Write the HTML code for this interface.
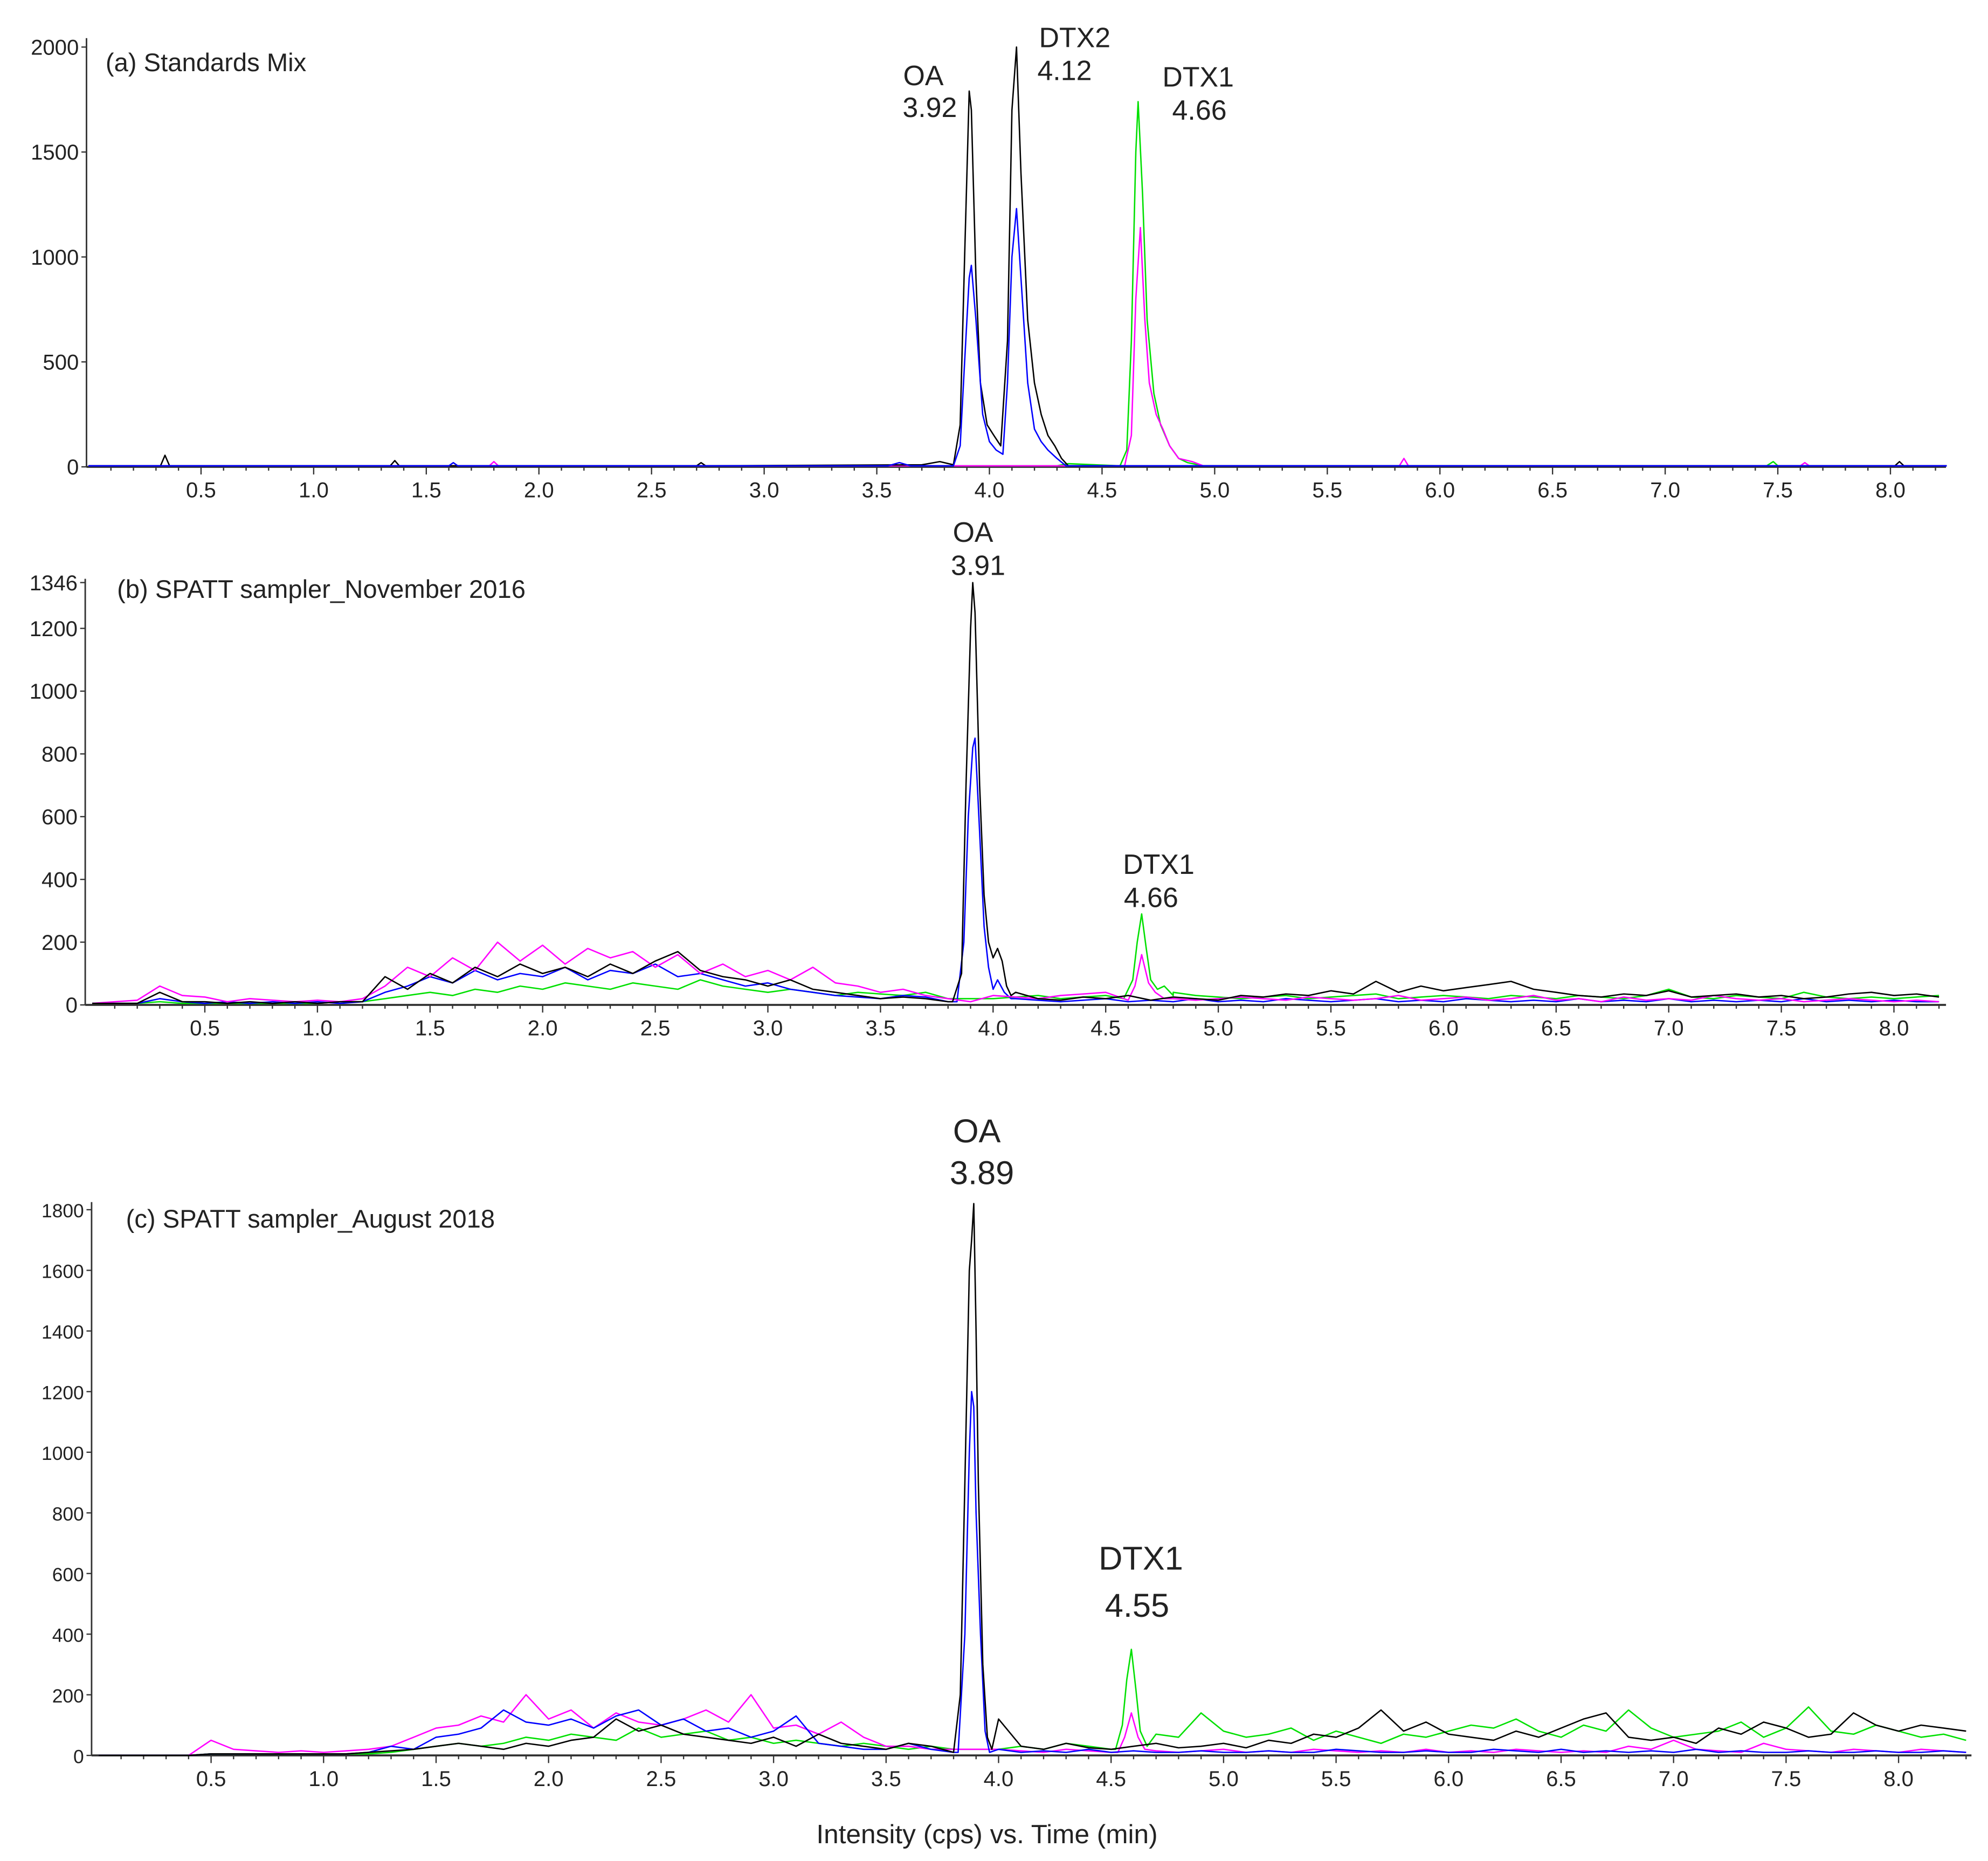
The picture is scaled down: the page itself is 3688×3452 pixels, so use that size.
<!DOCTYPE html>
<html><head><meta charset="utf-8"><style>
html,body{margin:0;padding:0;background:#fff}
svg{display:block}
text{font-family:"Liberation Sans",Arial,sans-serif;fill:#222}
</style></head><body>
<svg id="chart" width="3688" height="3452" viewBox="0 0 1563 1463" xmlns="http://www.w3.org/2000/svg">
<g id="root"></g>
</svg>
<script>
// ---------- DATA ----------
// Panel (a) Standards Mix: sparse samples (time min, intensity cps)
const aBlackT=[0,0.32,0.34,0.36,1.34,1.36,1.38,2.7,2.72,2.74,3.7,3.78,3.84,3.87,3.89,3.91,3.92,3.94,3.96,3.99,4.02,4.05,4.08,4.1,4.12,4.14,4.17,4.2,4.23,4.26,4.29,4.32,4.35,8.02,8.04,8.06,8.25];
const aBlackV=[5,5,55,5,5,30,5,5,20,5,10,25,10,200,1000,1790,1700,900,400,200,150,100,600,1700,2000,1400,700,400,250,150,100,40,5,5,25,5,5];
const aBlueT=[0,1.6,1.62,1.64,3.55,3.6,3.65,3.84,3.87,3.89,3.91,3.92,3.94,3.97,4.0,4.03,4.06,4.08,4.1,4.12,4.14,4.17,4.2,4.23,4.26,4.3,4.34,8.25];
const aBlueV=[5,5,20,5,5,20,5,5,100,500,900,960,700,250,120,80,60,400,1000,1230,900,400,180,120,80,40,5,5];
const aGreenT=[0,4.3,4.35,4.58,4.61,4.63,4.65,4.66,4.68,4.7,4.73,4.76,4.8,4.84,4.88,4.95,7.45,7.48,7.5,8.25];
const aGreenV=[5,5,15,5,80,600,1500,1740,1300,700,350,200,100,40,20,5,5,25,5,5];
const aMagentaT=[0,1.78,1.8,1.82,4.6,4.63,4.65,4.67,4.69,4.71,4.74,4.77,4.8,4.84,4.9,4.95,5.82,5.84,5.86,7.6,7.62,7.64,8.25];
const aMagentaV=[5,5,25,5,5,150,800,1140,700,400,250,180,100,40,25,5,5,40,5,5,20,5,5];

// Panel (b) SPATT Nov 2016: baseline sampled every 0.1 min from 0.0, plus peak segments
const bBlackBase=[5,5,5,40,10,10,5,10,5,10,5,10,10,90,50,100,70,120,90,130,100,120,90,130,100,140,170,110,90,80,60,80,50,40,30,20,25,20,10,10,150,40,20,15,25,20,30,15,25,20,15,30,25,35,30,45,35,75,40,60,45,55,65,75,50,40,30,25,35,30,45,25,30,35,25,30,20,25,35,40,30,35,25];
const bBlueBase=[5,5,5,20,10,5,10,5,10,5,10,5,10,40,60,90,70,110,80,100,90,120,80,110,100,130,90,100,80,60,70,50,40,30,25,20,30,25,10,10,60,20,15,10,15,20,10,15,10,20,10,15,10,20,15,10,15,20,10,15,10,20,15,10,15,10,20,10,15,10,20,10,15,10,15,10,20,10,15,10,15,10,10];
const bMagentaBase=[5,10,15,60,30,25,10,20,15,10,15,10,20,60,120,90,150,110,200,140,190,130,180,150,170,120,160,100,130,90,110,80,120,70,60,40,50,30,20,10,30,25,20,30,35,40,30,25,20,15,20,25,20,15,25,20,15,20,30,15,20,25,15,20,30,15,20,10,25,15,20,15,30,20,15,20,10,15,20,15,10,15,10];
const bGreenBase=[5,5,5,10,5,5,5,5,5,5,5,10,10,20,30,40,30,50,40,60,50,70,60,50,70,60,50,80,60,50,40,50,40,30,40,35,30,40,20,20,20,25,30,20,25,30,40,30,40,30,25,20,25,30,20,25,30,35,20,25,30,25,20,30,25,20,30,25,20,30,50,25,20,30,25,20,40,25,20,25,20,25,30];
const bBlackPkT=[3.82,3.86,3.88,3.9,3.91,3.92,3.94,3.96,3.98,4.0,4.02,4.04,4.06,4.08];
const bBlackPkV=[10,100,700,1200,1346,1250,700,350,200,150,180,140,60,30];
const bBluePkT=[3.84,3.87,3.89,3.91,3.92,3.94,3.96,3.98,4.0,4.02,4.05,4.08];
const bBluePkV=[10,200,600,820,850,550,250,120,50,80,40,20];
const bGreenPkT=[4.58,4.62,4.64,4.66,4.68,4.7,4.73,4.76,4.8];
const bGreenPkV=[20,80,200,290,180,80,50,60,30];
const bMagentaPkT=[4.6,4.63,4.66,4.69,4.72,4.76];
const bMagentaPkV=[15,60,160,70,40,20];

// Panel (c) SPATT Aug 2018
const cBlackBase=[0,0,0,0,0,5,5,5,5,5,5,5,10,15,20,30,40,30,20,40,30,50,60,120,80,100,70,60,50,40,60,30,70,40,30,20,40,30,50,20,120,30,20,40,25,20,30,40,25,30,40,25,50,40,70,60,90,150,80,110,70,60,50,80,60,90,120,140,60,50,60,40,90,70,110,90,60,70,140,100,80,100,90,80];
const cBlueBase=[0,0,0,0,0,5,5,5,5,5,5,5,10,30,20,60,70,90,150,110,100,120,90,130,150,100,120,80,90,60,80,130,40,30,20,20,40,20,10,10,20,10,15,10,20,10,15,10,10,15,10,10,15,10,10,20,15,10,10,15,10,10,20,15,10,20,10,15,10,15,10,20,10,15,10,10,15,10,10,15,10,10,15,10];
const cMagentaBase=[0,0,0,0,0,50,20,15,10,15,10,15,20,30,60,90,100,130,110,200,120,150,90,140,110,100,120,150,110,200,90,100,70,110,60,30,30,20,20,20,20,15,10,20,15,10,20,15,10,15,20,10,15,10,20,15,10,15,10,20,10,15,10,20,15,10,15,10,30,20,50,20,15,10,40,20,15,10,20,15,10,20,15,10];
const cGreenBase=[0,0,0,0,0,5,5,5,5,5,5,5,5,10,20,30,40,30,40,60,50,70,60,50,90,60,70,80,50,60,40,50,40,30,40,30,20,30,20,20,20,30,20,40,30,20,60,70,60,140,80,60,70,90,50,80,60,40,70,60,80,100,90,120,80,60,100,80,150,90,60,70,80,110,60,90,160,80,70,100,80,60,70,50];
const cBlackPkT=[3.8,3.83,3.85,3.87,3.88,3.89,3.9,3.91,3.93,3.95,3.97];
const cBlackPkV=[10,200,900,1600,1700,1820,1400,900,300,60,20];
const cBluePkT=[3.82,3.85,3.87,3.88,3.89,3.9,3.92,3.94,3.96];
const cBluePkV=[10,400,1000,1200,1150,800,400,80,10];
const cGreenPkT=[4.52,4.55,4.57,4.59,4.61,4.63,4.66];
const cGreenPkV=[20,100,250,350,220,80,30];
const cMagentaPkT=[4.53,4.56,4.59,4.62,4.65];
const cMagentaPkV=[10,60,140,60,20];

const xTickLabels=["0.5","1.0","1.5","2.0","2.5","3.0","3.5","4.0","4.5","5.0","5.5","6.0","6.5","7.0","7.5","8.0"];
const aYTicks=[0,500,1000,1500,2000];
const bYTicks=[0,200,400,600,800,1000,1200,1346];
const cYTicks=[0,200,400,600,800,1000,1200,1400,1600,1800];

// ---------- DRAWING ----------
const NS="http://www.w3.org/2000/svg";
const root=document.getElementById('root');
function el(tag,attrs,parent){const e=document.createElementNS(NS,tag);for(const k in attrs)e.setAttribute(k,attrs[k]);(parent||root).appendChild(e);return e;}
function txt(s,x,y,size,anchor,parent){const t=el('text',{x:x,y:y,'font-size':size,'text-anchor':anchor||'start'},parent);t.textContent=s;return t;}

function makeMerged(base,pkT,pkV){
  const pts=[];
  const lo=pkT.length?pkT[0]:99, hi=pkT.length?pkT[pkT.length-1]:-1;
  base.forEach((v,i)=>{const t=i*0.1;if(t<lo||t>hi)pts.push([t,v]);});
  pkT.forEach((t,i)=>pts.push([t,pkV[i]]));
  pts.sort((p,q)=>p[0]-q[0]);return pts;
}
function zip(T,V){return T.map((t,i)=>[t,V[i]]);}

function panel(cfg){
  const g=el('g',{});
  
  
  const X=t=>cfg.x0+t*cfg.ppm, Y=v=>cfg.y0-v*cfg.ypu;
  // axes
  const ya=el('line',{x1:cfg.ax,y1:cfg.top,x2:cfg.ax,y2:cfg.y0,stroke:'#333','stroke-width':1.2},g);
  
  const xa=el('line',{x1:cfg.ax,y1:cfg.y0,x2:cfg.xend,y2:cfg.y0,stroke:'#333','stroke-width':1.6},g);
  
  // y ticks
  cfg.yticks.forEach(v=>{
    el('line',{x1:cfg.ax-4,y1:Y(v),x2:cfg.ax,y2:Y(v),stroke:'#333','stroke-width':1},g);
    const t=txt(String(v),cfg.ax-6,Y(v)+6,cfg.yfs,'end',g);
    
  });
  // x ticks
  for(let k=1;k*0.1<=cfg.tmax;k++){const t=k*0.1,major=(k%5===0);
    el('line',{x1:X(t),y1:cfg.y0,x2:X(t),y2:cfg.y0+(major?6:3),stroke:'#333','stroke-width':1},g);}
  xTickLabels.forEach(s=>{const t=txt(s,X(parseFloat(s)),cfg.y0+24,17,'middle',g);
    });
  // series
  cfg.series.forEach(s=>{
    const d=s.pts.map((p,i)=>(i?'L':'M')+X(p[0]).toFixed(1)+' '+Y(p[1]).toFixed(1)).join(' ');
    const p=el('path',{d:d,fill:'none',stroke:s.color,'stroke-width':1.1,'stroke-linejoin':'round'},g);
    
  });
  const tt=txt(cfg.title,cfg.tx,cfg.ty,20,'start',g);
  
  cfg.labels.forEach(l=>{const t=txt(l[0],l[1],l[2],l[3],'middle',g);
    });
}

panel({name:'panel-a-standards-mix',x0:69.5,ppm:177.1,y0:367,ypu:330/2000,ax:68,top:30,xend:1530,tmax:8.25,yticks:aYTicks,yfs:17,
 title:'(a) Standards Mix',tx:83,ty:56,
 labels:[['OA',726,67,22],['3.92',731,92,22],['DTX2',845,37,22],['4.12',837,63,22],['DTX1',942,68,22],['4.66',943,94,22]],
 series:[{name:'series-green-a',color:'#00e000',pts:zip(aGreenT,aGreenV)},{name:'series-magenta-a',color:'#ff00ff',pts:zip(aMagentaT,aMagentaV)},
   {name:'series-black-a',color:'#000',pts:zip(aBlackT,aBlackV)},{name:'series-blue-a',color:'#0000ff',pts:zip(aBlueT,aBlueV)}]});

panel({name:'panel-b-spatt-nov-2016',x0:72.5,ppm:177.07,y0:790,ypu:296/1200,ax:67,top:455,xend:1530,tmax:8.25,yticks:bYTicks,yfs:17,
 title:'(b) SPATT sampler_November 2016',tx:92,ty:470,
 labels:[['OA',765,426,22],['3.91',769,452,22],['DTX1',911,687,22],['4.66',905,713,22]],
 series:[{name:'series-green-b',color:'#00e000',pts:makeMerged(bGreenBase,bGreenPkT,bGreenPkV)},
   {name:'series-blue-b',color:'#0000ff',pts:makeMerged(bBlueBase,bBluePkT,bBluePkV)},
   {name:'series-magenta-b',color:'#ff00ff',pts:makeMerged(bMagentaBase,bMagentaPkT,bMagentaPkV)},
   {name:'series-black-b',color:'#000',pts:makeMerged(bBlackBase,bBlackPkT,bBlackPkV)}]});

panel({name:'panel-c-spatt-aug-2018',x0:77.5,ppm:176.9,y0:1380,ypu:429/1800,ax:72,top:945,xend:1550,tmax:8.35,yticks:cYTicks,yfs:15,
 title:'(c) SPATT sampler_August 2018',tx:99,ty:965,
 labels:[['OA',768,898,26],['3.89',772,931,26],['DTX1',897,1234,26],['4.55',894,1271,26]],
 series:[{name:'series-green-c',color:'#00e000',pts:makeMerged(cGreenBase,cGreenPkT,cGreenPkV)},
   {name:'series-magenta-c',color:'#ff00ff',pts:makeMerged(cMagentaBase,cMagentaPkT,cMagentaPkV)},
   {name:'series-blue-c',color:'#0000ff',pts:makeMerged(cBlueBase,cBluePkT,cBluePkV)},
   {name:'series-black-c',color:'#000',pts:makeMerged(cBlackBase,cBlackPkT,cBlackPkV)}]});

const xt=txt('Intensity (cps) vs. Time (min)',776,1449,21,'middle');


</script>
</body></html>
